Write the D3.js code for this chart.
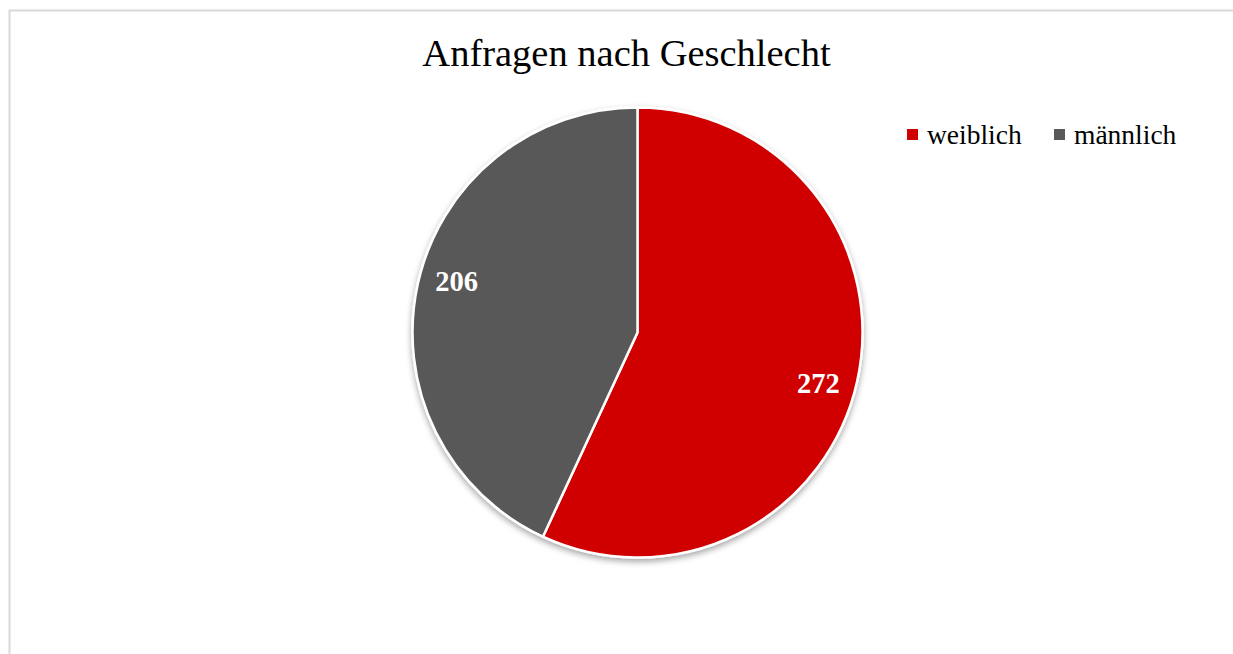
<!DOCTYPE html>
<html>
<head>
<meta charset="utf-8">
<script src="https://cdn.jsdelivr.net/npm/d3@7"></script>
<style>
  body { margin: 0; background: #fff; }
  svg { display: block; }
  text { font-family: "Liberation Serif", "Times New Roman", serif; }
</style>
</head>
<body>
<svg id="chart"></svg>
<script>
const categories = ['weiblich', 'männlich'];
const values = [272, 206];
const colors = ['#d00000', '#595959'];
const title = 'Anfragen nach Geschlecht';

const width = 1233;
const height = 654;
const cx = 637.5, cy = 332.5, radius = 225;

const svg = d3.select('#chart').attr('width', width).attr('height', height);

// chart area border (runs off the right and bottom edge)
svg.append('rect')
  .attr('x', 9.5).attr('y', 10.5)
  .attr('width', 1240).attr('height', 700)
  .attr('fill', 'none').attr('stroke', '#d9d9d9').attr('stroke-width', 2);

const defs = svg.append('defs');
const filter = defs.append('filter').attr('id', 'shadow')
  .attr('x', '-10%').attr('y', '-10%').attr('width', '120%').attr('height', '120%');
filter.append('feDropShadow')
  .attr('dx', 0).attr('dy', 3).attr('stdDeviation', 3)
  .attr('flood-color', '#000').attr('flood-opacity', 0.35);

svg.append('text')
  .attr('x', 626.5).attr('y', 66)
  .attr('text-anchor', 'middle')
  .attr('font-size', 38.5)
  .attr('fill', '#000')
  .text(title);

const pie = d3.pie().sort(null).value(d => d);
const arcs = pie(values);
const arc = d3.arc().innerRadius(0).outerRadius(radius);
const labelR = radius * 0.835;
// labels sit a little clockwise of the slice middle, like the original
const labelPos = d => {
  const a = (d.startAngle + d.endAngle) / 2 + 0.058;
  return [labelR * Math.sin(a), -labelR * Math.cos(a)];
};

const g = svg.append('g').attr('transform', `translate(${cx},${cy})`);

g.append('g').attr('filter', 'url(#shadow)')
  .selectAll('path').data(arcs).enter().append('path')
  .attr('d', arc)
  .attr('fill', (d, i) => colors[i])
  .attr('stroke', '#fff')
  .attr('stroke-width', 2.5)
  .attr('stroke-linejoin', 'round');

g.selectAll('text.lbl').data(arcs).enter().append('text')
  .attr('class', 'lbl')
  .attr('transform', d => `translate(${labelPos(d)})`)
  .attr('text-anchor', 'middle')
  .attr('dy', '0.35em')
  .attr('font-size', 28.5)
  .attr('font-weight', 'bold')
  .attr('fill', '#fff')
  .text(d => d.data);

// legend
const legendX = [907, 1054];
const legend = svg.append('g');
categories.forEach((c, i) => {
  legend.append('rect')
    .attr('x', legendX[i]).attr('y', 129)
    .attr('width', 11).attr('height', 11)
    .attr('fill', colors[i]);
  legend.append('text')
    .attr('x', legendX[i] + 20).attr('y', 144)
    .attr('font-size', 27.5)
    .attr('fill', '#000')
    .text(c);
});
</script>
</body>
</html>
